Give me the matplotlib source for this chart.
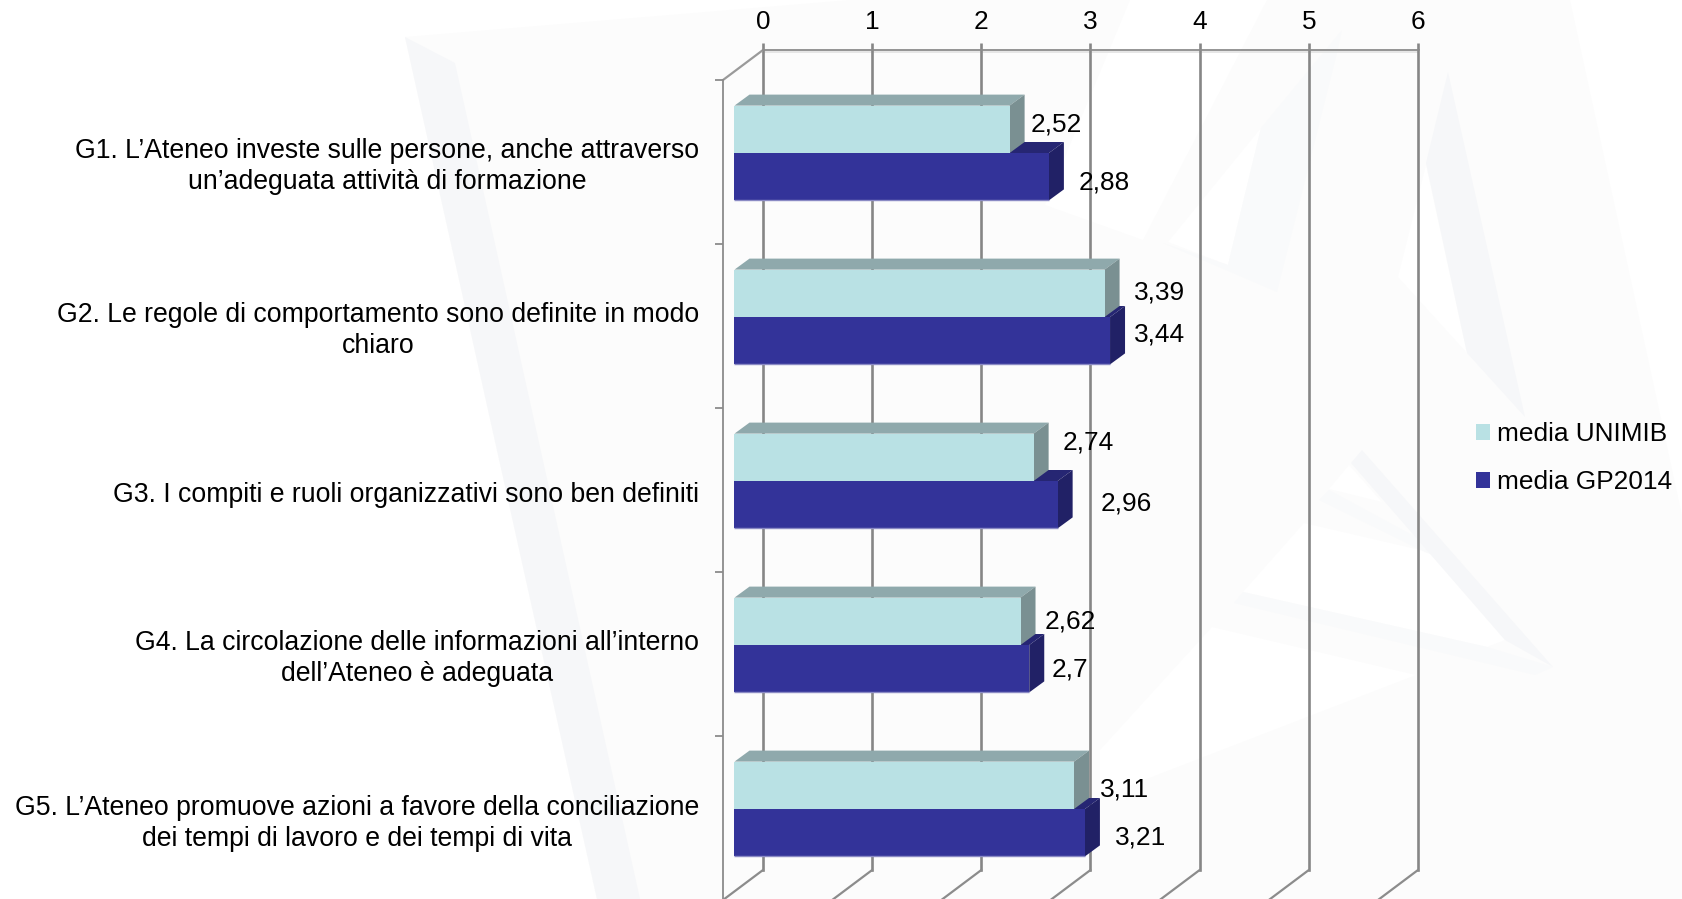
import matplotlib
matplotlib.use("Agg")
import matplotlib.pyplot as plt
from matplotlib.patches import Polygon, Patch
from matplotlib.transforms import Affine2D

plt.rcParams['font.family'] = ['Liberation Sans', 'DejaVu Sans']

# ---- data ----
categories = [
    "G1. L\u2019Ateneo investe sulle persone, anche attraverso\nun\u2019adeguata attivit\u00e0 di formazione",
    "G2. Le regole di comportamento sono definite in modo\nchiaro",
    "G3. I compiti e ruoli organizzativi sono ben definiti",
    "G4. La circolazione delle informazioni all\u2019interno\ndell\u2019Ateneo \u00e8 adeguata",
    "G5. L\u2019Ateneo promuove azioni a favore della conciliazione\ndei tempi di lavoro e dei tempi di vita",
]
media_unimib = [2.52, 3.39, 2.74, 2.62, 3.11]
media_gp2014 = [2.88, 3.44, 2.96, 2.70, 3.21]
labels_unimib = ["2,52", "3,39", "2,74", "2,62", "3,11"]
labels_gp2014 = ["2,88", "3,44", "2,96", "2,7", "3,21"]
x_ticks = [0, 1, 2, 3, 4, 5, 6]
series_names = ["media UNIMIB", "media GP2014"]

# ---- style / layout (pixels) ----
W, H = 1683, 899
FS = 18.9
FS_CAT = 19.2
GRID = "#868686"
LINE = "#8C8C8C"
LIGHT = ("#B9E1E4", "#8FA9AC", "#7A9092")
DARK = ("#333399", "#262673", "#212166")
BACK_L, BACK_R, BACK_T, BACK_B = 763, 1418, 50, 870
DX, DY = 40, 30             # depth of the 3D box
BAR_DX, BAR_DY = -28.5, 21  # bar front face relative to the back wall (y down)
BAR_DEPTH_X, BAR_DEPTH_Y = 15, 11
BAR_H = 0.289
off_unimib = [(47, -5), (55, -1), (55, -15), (50, 0), (51, 4)]
off_gp2014 = [(55, 6), (49, -6), (69, -1), (41, 1), (56, 5)]
label_nudge = [-1, -1, 2, -1.5, 0]

# faint background watermark, figure pixels (x, y from top)
WM_STRONG = "#F6F7F9"
WM_MID = "#F9FAFB"
WM_SOFT = "#FCFCFC"
wm_soft = [
    [(405, 37), (850, 0), (1570, 0), (1683, 520), (1683, 899), (597, 899)],
]
wm_white = [
    [(1426, 165), (1467, 353), (1398, 277)],
    [(1261, 128), (1228, 265), (1168, 242)],
    [(1130, 0), (1267, 0), (1143, 240), (1045, 205)],
    [(1243, 592), (1304, 523), (1429, 552), (1505, 640), (1487, 647)],
    [(1349, 465), (1329, 489), (1382, 502)],
    [(1212, 627), (1416, 675), (1100, 797), (1100, 750)],
]
wm_mid = [
    [(1342, 30), (1261, 128), (1228, 265), (1163, 243), (1277, 292), (1337, 53)],
    [(1243, 592), (1487, 647), (1553, 667), (1535, 675), (1234, 603)],
    [(1319, 500), (1329, 490), (1462, 562), (1427, 553)],
]
wm_strong = [
    [(405, 37), (455, 63), (640, 899), (597, 899)],
    [(1448, 72), (1426, 163), (1467, 353), (1525, 417)],
    [(1362, 450), (1351, 463), (1505, 640), (1553, 667)],
]

fig = plt.figure(figsize=(W / 100, H / 100), dpi=100, facecolor="white")

def axes_px(l, r, t, b, **kw):
    return fig.add_axes([l / W, 1 - b / H, (r - l) / W, (b - t) / H], **kw)

bg = fig.add_axes([0, 0, 1, 1], zorder=0)
bg.set_xlim(0, W); bg.set_ylim(H, 0); bg.axis("off")
for group, col in ((wm_soft, WM_SOFT), (wm_white, "white"), (wm_mid, WM_MID), (wm_strong, WM_STRONG)):
    for p in group:
        bg.add_patch(Polygon(p, closed=True, fc=col, ec="none"))

# back wall axes
ax = axes_px(BACK_L, BACK_R, BACK_T, BACK_B, zorder=1)
ax.patch.set_alpha(0)
ax.set_xlim(x_ticks[0], x_ticks[-1])
ax.set_ylim(len(categories), 0)
for s in ("left", "right", "bottom"):
    ax.spines[s].set_visible(False)
ax.spines["top"].set_color(LINE)
ax.spines["top"].set_linewidth(1.3)
ax.xaxis.tick_top()
ax.set_xticks(x_ticks)
ax.set_yticks([])
ax.tick_params(axis="x", length=5, width=1.9, color=GRID, labelsize=FS, pad=6.5)
ax.set_axisbelow(True)
for v in x_ticks:
    ax.axvline(v, color=GRID, linewidth=1.9, clip_on=False, zorder=1)
ax.plot(x_ticks, [0] * len(x_ticks), color="#E2E2E2", lw=1.2, clip_on=False, zorder=0.5,
        transform=ax.transData + Affine2D().translate(0, -2))

# floor diagonals, and the top-left one
for v in x_ticks:
    x0, y0 = ax.transData.transform((v, len(categories)))
    ax.plot([x0, x0 - DX], [y0, y0 - DY], color=LINE, lw=1.6,
            transform=None, clip_on=False, zorder=1.5, solid_capstyle="round")
x0, y0 = ax.transData.transform((0, 0))
ax.plot([x0, x0 - DX], [y0, y0 - DY], color="#9A9A9A", lw=1.6,
        transform=None, clip_on=False, zorder=1.5)

# front plane axes carry the category axis
axf = axes_px(BACK_L - DX, BACK_R - DX, BACK_T + DY, BACK_B + DY, zorder=2)
axf.patch.set_alpha(0)
axf.set_xlim(x_ticks[0], x_ticks[-1])
axf.set_ylim(len(categories), 0)
for s in ("top", "right", "bottom"):
    axf.spines[s].set_visible(False)
axf.spines["left"].set_color(LINE)
axf.spines["left"].set_linewidth(1.3)
axf.set_xticks([])
axf.set_yticks(range(len(categories) + 1))
axf.set_yticklabels([])
axf.set_yticks([i + 0.5 + label_nudge[i] / 164 for i in range(len(categories))], minor=True)
axf.set_yticklabels(categories, minor=True, fontsize=FS_CAT, ha="right",
                    multialignment="center", linespacing=1.27)
axf.tick_params(axis="y", which="major", length=6, width=1.3, color=LINE)
axf.tick_params(axis="y", which="minor", length=0, pad=17)

# bars on a separate plane inside the 3D box
front_tr = ax.transData + Affine2D().translate(BAR_DX, -BAR_DY)
axb = axes_px(0, W, 0, H, zorder=3)
axb.axis("off")
axb.set_xlim(0, W); axb.set_ylim(H, 0)

def bar3d(value, cat, top_shift, colors):
    (xl, yt) = front_tr.transform((0, cat + top_shift))
    (xr, yb) = front_tr.transform((value, cat + top_shift + BAR_H))
    inv = axb.transData.inverted()
    (xl, yt), (xr, yb) = inv.transform((xl, yt)), inv.transform((xr, yb))
    d, e = BAR_DEPTH_X, BAR_DEPTH_Y
    axb.add_patch(Polygon([(xl, yt), (xl + d, yt - e), (xr + d, yt - e), (xr, yt)],
                          fc=colors[1], ec="none"))
    axb.add_patch(Polygon([(xr, yt), (xr + d, yt - e), (xr + d, yb - e), (xr, yb)],
                          fc=colors[2], ec="none"))
    axb.add_patch(Polygon([(xl, yt), (xr, yt), (xr, yb), (xl, yb)],
                          fc=colors[0], ec="none"))
    return xl, xr, yt, yb

for i in range(len(categories)):
    xl, xr, yt, yb = bar3d(media_gp2014[i], i, 0.5, DARK)
    axb.plot([xl, xr], [yb, yb], color="#8A8AC4", lw=1.0, solid_capstyle="butt")
    axb.text(xr + off_gp2014[i][0], (yt + yb) / 2 + off_gp2014[i][1], labels_gp2014[i],
             fontsize=FS, ha="center", va="center", zorder=5)
    xl, xr, yt, yb = bar3d(media_unimib[i], i, 0.5 - BAR_H, LIGHT)
    axb.text(xr + off_unimib[i][0], (yt + yb) / 2 + off_unimib[i][1], labels_unimib[i],
             fontsize=FS, ha="center", va="center", zorder=5)

fig.legend(handles=[Patch(fc=LIGHT[0], ec="none"), Patch(fc=DARK[0], ec="none")],
           labels=series_names, loc="center left",
           bbox_to_anchor=(1476 / W, 1 - 458 / H), borderpad=0, borderaxespad=0,
           frameon=False, fontsize=FS, handlelength=0.55, handleheight=0.55,
           handletextpad=0.26, labelspacing=0.92)

fig.savefig("out.png", dpi=100)
